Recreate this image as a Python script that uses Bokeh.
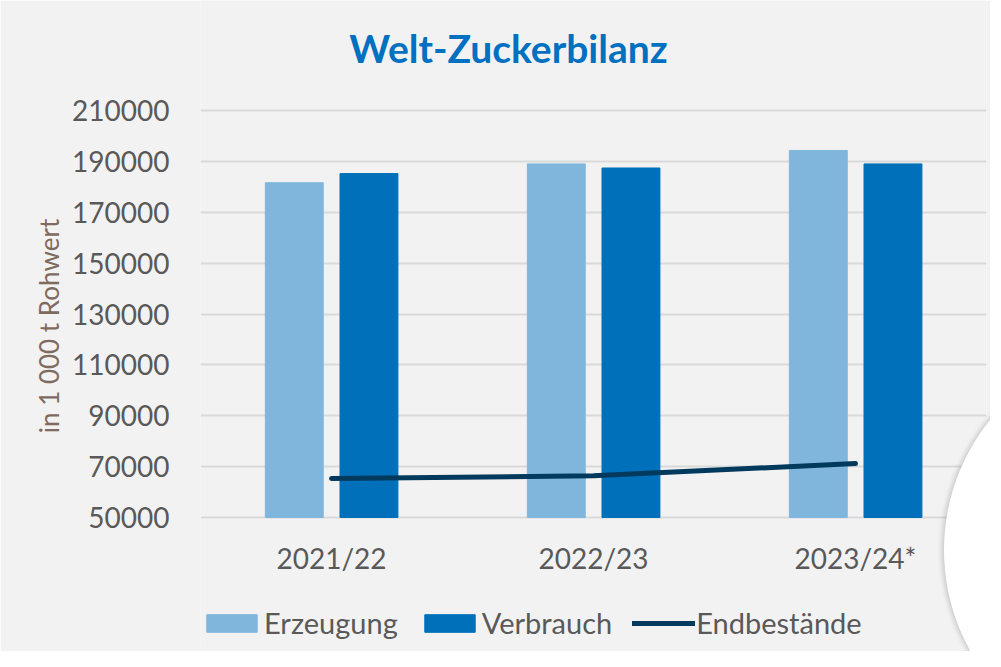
from bokeh.plotting import figure
from bokeh.models import (ColumnDataSource, FactorRange, Range1d, FixedTicker,
                          NumeralTickFormatter, Legend, LegendItem, Label,
                          InlineStyleSheet)
from bokeh.core.properties import value
from bokeh.transform import dodge
from bokeh.embed import file_html
from bokeh.resources import INLINE

# ---- data ----
title_text = "Welt-Zuckerbilanz"
years = ["2021/22", "2022/23", "2023/24*"]
erzeugung = [181600, 189000, 194300]
verbrauch = [185200, 187400, 189000]
endbestaende = [65300, 66400, 71200]
y_ticks = [50000, 70000, 90000, 110000, 130000, 150000, 170000, 190000, 210000]
series_names = ["Erzeugung", "Verbrauch", "Endbestände"]

BG = "#f2f2f2"
FONT = "Lato"
C_ERZ, C_VERB, C_END = "#80b6dc", "#0070ba", "#023a5e"
TXT = "#595959"

src = ColumnDataSource(dict(year=years, erz=erzeugung, verb=verbrauch, end=endbestaende))

# frame spans the full canvas height; the visible value scale (50000-210000)
# sits between pixel rows 110 and 517 of the 651 px canvas
PX_TOP, PX_AXIS_TOP, PX_AXIS_BOTTOM, PX_H = 0, 110, 517, 651
per_px = (y_ticks[-1] - y_ticks[0]) / (PX_AXIS_BOTTOM - PX_AXIS_TOP)
y_start = y_ticks[0] - (PX_H - PX_AXIS_BOTTOM) * per_px
y_end = y_ticks[-1] + (PX_AXIS_TOP - PX_TOP) * per_px

p = figure(x_range=FactorRange(factors=years), y_range=Range1d(y_start, y_end),
           width=990, height=PX_H, output_backend="svg", toolbar_location=None,
           x_axis_location=None,
           background_fill_color=BG, border_fill_color=BG,
           min_border_left=200, min_border_right=4, min_border_top=0,
           min_border_bottom=0)
p.outline_line_color = None
p.x_range.range_padding = 0

r_erz = p.vbar(x=dodge("year", -0.142, range=p.x_range), top="erz", bottom=y_ticks[0],
               width=0.221, source=src, fill_color=C_ERZ, line_color=C_ERZ)
r_verb = p.vbar(x=dodge("year", 0.143, range=p.x_range), top="verb", bottom=y_ticks[0],
                width=0.221, source=src, fill_color=C_VERB, line_color=C_VERB)
r_end = p.line(x="year", y="end", source=src, line_color=C_END, line_width=5,
               line_cap="round", line_join="round")

# category labels under the bars (placed by the categorical x scale)
p.text(x="year", y=y_ticks[0], text="year", source=src, y_offset=40,
       text_align="center", text_baseline="alphabetic",
       text_font=value(FONT), text_font_size="28px", text_color=TXT)

# y axis
ya = p.yaxis[0]
ya.ticker = FixedTicker(ticks=y_ticks)
ya.formatter = NumeralTickFormatter(format="0")
ya.bounds = (y_ticks[0], y_ticks[-1])
ya.axis_line_color = None
ya.major_tick_line_color = None
ya.minor_tick_line_color = None
ya.major_label_text_font = FONT
ya.major_label_text_font_size = "28px"
ya.major_label_text_color = TXT
ya.major_label_standoff = 25
ya.axis_label = "in 1 000 t Rohwert"
ya.axis_label_text_font = FONT
ya.axis_label_text_font_style = "normal"
ya.axis_label_text_font_size = "26px"
ya.axis_label_text_color = "#7f6a60"
ya.axis_label_standoff = 4

for g in p.grid:
    if g.dimension == 0:
        g.visible = False
    else:
        g.grid_line_color = "#d9d9d9"
        g.grid_line_width = 2

# title
p.add_layout(Label(x=308, y=PX_H - 47, x_units="screen", y_units="screen",
                   text=title_text, text_align="center",
                   text_baseline="alphabetic", text_font=FONT,
                   text_font_style="bold", text_font_size="39px",
                   text_color="#0070c0"))

legend = Legend(items=[LegendItem(label=series_names[0], renderers=[r_erz]),
                       LegendItem(label=series_names[1], renderers=[r_verb]),
                       LegendItem(label=series_names[2], renderers=[r_end])],
                orientation="horizontal", location=(0, 11),
                glyph_width=63, glyph_height=22, label_standoff=1, spacing=20,
                padding=0, margin=0, border_line_color=None,
                background_fill_alpha=0, label_text_font=FONT,
                label_text_font_size="29px", label_text_color=TXT)
p.add_layout(legend, "center")

# decorative white circle overlapping the bottom-right corner (pure CSS)
p.stylesheets = [InlineStyleSheet(css="""
:host { position: relative; overflow: hidden; }
:host::after {
  content: ""; position: absolute; z-index: 50;
  left: 944px; top: 343px; width: 414px; height: 414px;
  border-radius: 50%; background: #ffffff;
  box-shadow: -2px 0 5px rgba(0,0,0,0.18);
  pointer-events: none;
}
""")]

open("out.html", "w").write(file_html(p, INLINE))
